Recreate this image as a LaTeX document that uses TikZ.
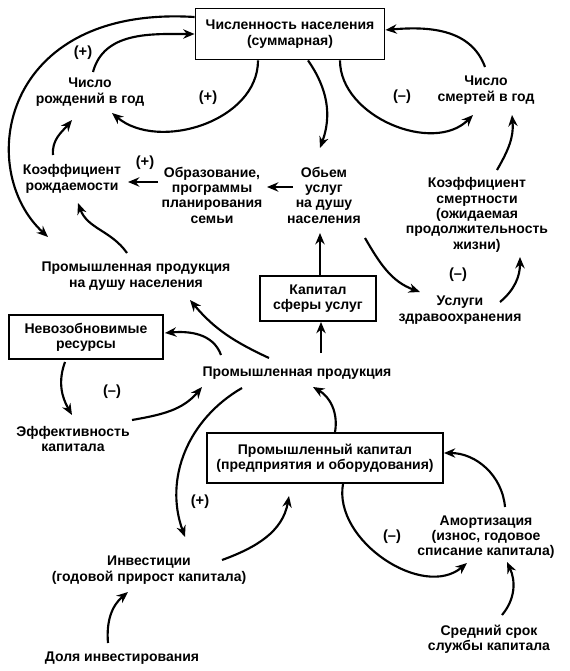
\documentclass[tikz,border=0pt]{standalone}
\usepackage{fontspec}
\setmainfont{Liberation Sans}
\usetikzlibrary{arrows.meta,calc}
\begin{document}
\begin{tikzpicture}[x=0.75pt,y=0.75pt,
  txt/.style={font=\bfseries\fontsize{10.5}{11.5}\selectfont,align=center,inner sep=1pt},
  boxnode/.style={txt,draw,line width=1.4pt,inner sep=0pt},
  sign/.style={font=\bfseries\fontsize{11}{12}\selectfont,inner sep=1pt},
  arr/.style={line width=1.6pt,-{Stealth[length=8.5pt,width=7pt]}}]
\useasboundingbox (0,0) rectangle (570,-671);
\fill[white] (0,0) rectangle (570,-671);
% nodes
\node[boxnode,minimum width=141.75pt,minimum height=38.25pt,font=\bfseries\fontsize{10.5}{12.5}\selectfont] (pop) at (290,-34) {Численность населения\\(суммарная)};
\node[txt] (bir) at (90,-92) {Число\\рождений в год};
\node[txt] (dea) at (486,-90) {Число\\смертей в год};
\node[txt] (kr) at (72,-179) {Коэффициент\\рождаемости};
\node[txt] (edu) at (212,-195) {Образование,\\программы\\планирования\\семьи};
\node[txt] (svc) at (324,-195) {Обьем\\услуг\\на душу\\населения};
\node[txt] (ks) at (477,-215) {Коэффициент\\смертности\\(ожидаемая\\продолжительность\\жизни)};
\node[txt] (pc) at (136,-276) {Промышленная продукция\\на душу населения};
\node[boxnode,minimum width=87pt,minimum height=33.75pt] (ksu) at (318,-298.5) {Капитал\\сферы услуг};
\node[txt] (usl) at (460,-310) {Услуги\\здравоохранения};
\node[boxnode,minimum width=115.5pt,minimum height=33pt] (nr) at (86,-337) {Невозобновимые\\ресурсы};
\node[txt] (pp) at (297,-373) {Промышленная продукция};
\node[txt] (ek) at (73,-439) {Эффективность\\капитала};
\node[boxnode,minimum width=177pt,minimum height=37.5pt] (pk) at (325,-458) {Промышленный капитал\\(предприятия и оборудования)};
\node[txt] (am) at (486,-537) {Амортизация\\(износ, годовое\\списание капитала)};
\node[txt] (inv) at (149,-570) {Инвестиции\\(годовой прирост капитала)};
\node[txt] (srok) at (489,-639) {Средний срок\\службы капитала};
\node[txt] (dol) at (122,-658) {Доля инвестирования};
% signs
\node[sign] (s1) at (83,-53) {(+)};
\node[sign] (s2) at (208,-98) {(+)};
\node[sign] (s3) at (145,-163) {(+)};
\node[sign] (s4) at (200,-502) {(+)};
\node[sign] (s5) at (402,-97) {(–)};
\node[sign] (s6) at (458,-275) {(–)};
\node[sign] (s7) at (112,-392) {(–)};
\node[sign] (s8) at (392,-537) {(–)};
% connectors
\draw[arr] ($(bir)+(3,20)$) to[out=75,in=180] (pop.west);
\draw[arr] ($(pop.south)+(-32,0)$) to[out=-90,in=-40] ($(bir)+(22,-21)$);
\draw[arr] ($(pop.west)+(0,17)$) .. controls (0,-5) and (-25,-170) .. ($(pc)+(-88,39)$);
\draw[arr] ($(kr)+(-19,24)$) to[out=95,in=-130] ($(bir)+(-18,-28)$);
\draw[arr] ($(edu)+(-54,13)$) -- ($(kr)+(56,-3)$);
\draw[arr] ($(svc)+(-31,8)$) -- ($(edu)+(55,8)$);
\draw[arr] ($(pc)+(-9,23)$) to[out=125,in=-70] ($(kr)+(6,-24)$);
\draw[arr] ($(pop.south)+(18,0)$) to[out=-55,in=70] ($(svc)+(-4,47)$);
\draw[arr] ($(pop.south)+(50,0)$) to[out=-90,in=-135] ($(dea)+(-13,-25)$);
\draw[arr] ($(dea)+(-1,23)$) to[out=110,in=5] ($(pop.east)+(0,4)$);
\draw[arr] ($(ks)+(20,45)$) to[out=60,in=-85] ($(dea)+(26,-25)$);
\draw[arr] ($(ksu.north)+(2,0)$) -- ($(svc)+(-4,-38)$);
\draw[arr] ($(svc)+(41,-43)$) to[out=-60,in=160] ($(usl)+(-40,18)$);
\draw[arr] ($(usl)+(40,8)$) to[out=40,in=-90] ($(ks)+(43,-42)$);
\draw[arr] ($(pp)+(24,20)$) -- ($(ksu.south)+(3,0)$);
\draw[arr] ($(pp)+(-28,15)$) to[out=155,in=-50] ($(pc)+(54,-24)$);
\draw[arr] ($(pp)+(-76,18)$) to[out=110,in=5] ($(nr.east)+(1,4)$);
\draw[arr] ($(nr.south)+(-21,-2)$) to[out=-110,in=120] ($(ek)+(-1,24)$);
\draw[arr] ($(ek)+(59,19)$) to[out=10,in=-130] ($(pp)+(-95,-14)$);
\draw[arr] ($(pp)+(-55,-15)$) to[out=-150,in=110] ($(inv)+(36,33)$);
\draw[arr] ($(inv)+(73,10)$) to[out=20,in=-100] ($(pk)+(-36,-38)$);
\draw[arr] ($(pk.north)+(10,0)$) to[out=80,in=-30] ($(pp)+(16,-14)$);
\draw[arr] ($(pk.south)+(18,0)$) to[out=-100,in=-140] ($(am)+(-19,-26)$);
\draw[arr] ($(am)+(19,30)$) to[out=95,in=0] ($(pk.east)+(0,5)$);
\draw[arr] ($(srok)+(13,24)$) to[out=50,in=-65] ($(am)+(21,-25)$);
\draw[arr] ($(dol)+(-14,15)$) to[out=95,in=-140] ($(inv)+(-21,-22)$);
\end{tikzpicture}
\end{document}
